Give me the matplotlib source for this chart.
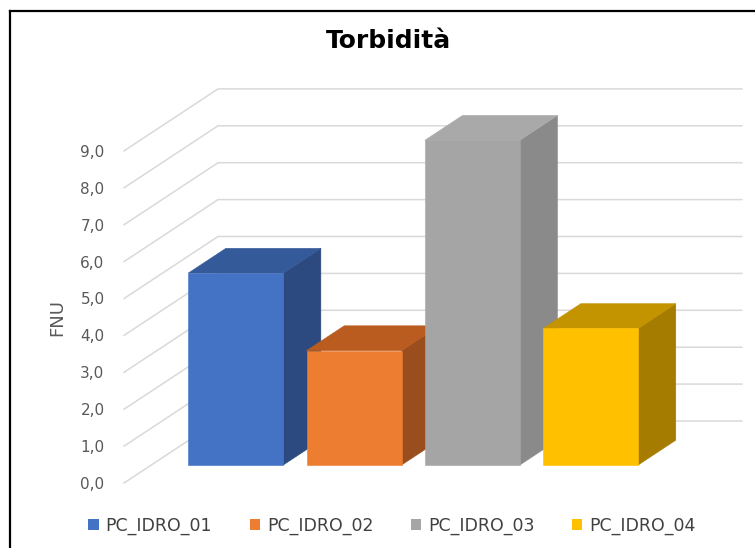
import numpy as np
import matplotlib
matplotlib.use("Agg")
import matplotlib.pyplot as plt
from matplotlib.patches import Polygon, Patch
from matplotlib.lines import Line2D

stations = ["PC_IDRO_01", "PC_IDRO_02", "PC_IDRO_03", "PC_IDRO_04"]
fnu = [5.2, 3.1, 8.8, 3.7]
y_ticks = [0, 1, 2, 3, 4, 5, 6, 7, 8, 9]
y_tick_labels = ["0,0", "1,0", "2,0", "3,0", "4,0", "5,0", "6,0", "7,0", "8,0", "9,0"]

# front / top / side shades for each column
front_colors = ["#4472C4", "#ED7D31", "#A5A5A5", "#FFC000"]
top_colors = ["#345A9A", "#BA5C1F", "#A9A9A9", "#C49300"]
side_colors = ["#2C4A80", "#9A4E1D", "#8A8A8A", "#A67C00"]

W, H = 755, 548
PX_X = 118.3   # pixels per category
PX_Y = 36.9    # pixels per FNU unit
DEPTH_PX = (94, 62)
DX, DY = DEPTH_PX[0] / PX_X, DEPTH_PX[1] / PX_Y
D0, D1 = 0.29, 0.69   # column depth inside the floor
BAR_W = 95 / PX_X
FLOOR_HALF = 2.214

fig = plt.figure(figsize=(W / 100, H / 100), dpi=100)
fig.patch.set_facecolor("white")

ax_left, ax_bottom = 124, 65
ax = fig.add_axes([ax_left / W, ax_bottom / H, (W - ax_left) / W, 403 / H])
x0 = -(208.5 - ax_left) / PX_X
ax.set_xlim(x0, x0 + (W - ax_left) / PX_X)
ax.set_ylim(0, 403 / PX_Y)
for s in ax.spines.values():
    s.set_visible(False)
ax.set_facecolor("none")
ax.set_xticks([])
ax.set_yticks(y_ticks, y_tick_labels)
ax.tick_params(axis="y", length=0, pad=14, labelsize=11, labelcolor="#595959")


def proj(x, v, d):
    return (x + d * DX, v + d * DY)


# side wall and back wall gridlines
centre = (len(stations) - 1) / 2
xl, xr = centre - FLOOR_HALF, centre + FLOOR_HALF
for v in y_ticks:
    pts = [proj(xl, v, 0), proj(xl, v, 1), proj(xr, v, 1)]
    ax.plot([p[0] for p in pts], [p[1] for p in pts], color="#D9D9D9",
            lw=1.1, zorder=1, clip_on=False, solid_joinstyle="miter")

# 3D columns, left to right so later ones sit in front
for i, h in enumerate(fnu):
    a, b = i - BAR_W / 2, i + BAR_W / 2
    front = [proj(a, 0, D0), proj(b, 0, D0), proj(b, h, D0), proj(a, h, D0)]
    top = [proj(a, h, D0), proj(b, h, D0), proj(b, h, D1), proj(a, h, D1)]
    side = [proj(b, 0, D0), proj(b, 0, D1), proj(b, h, D1), proj(b, h, D0)]
    for poly, c in ((side, side_colors[i]), (top, top_colors[i]), (front, front_colors[i])):
        ax.add_patch(Polygon(poly, closed=True, facecolor=c, edgecolor=c,
                             lw=0.4, zorder=2 + i, clip_on=False))

ax.set_ylabel("FNU", fontsize=13, color="#595959")
ax.yaxis.set_label_coords((57 - ax_left) / (W - ax_left), (231 - ax_bottom) / 403)
ax.yaxis.label.set_va("center")

fig.text(388 / W, 1 - 41 / H, "Torbidità", ha="center", va="center",
         fontsize=18, fontweight="bold", color="black")

handles = [Patch(facecolor=c, edgecolor="none", label=n) for c, n in zip(front_colors, stations)]
fig.legend(handles=handles, loc="center", bbox_to_anchor=(392 / W, 22 / H),
           ncol=4, frameon=False, fontsize=12.5, labelcolor="#404040",
           handlelength=0.6, handleheight=0.6, handletextpad=0.4, columnspacing=2.15)

# chart border
fig.add_artist(Line2D([9.5 / W, 9.5 / W], [0, 1 - 10.5 / H], color="black", lw=1.6,
                      transform=fig.transFigure))
fig.add_artist(Line2D([9.5 / W, 1], [1 - 10.5 / H, 1 - 10.5 / H], color="black", lw=1.6,
                      transform=fig.transFigure))

fig.savefig("out.png", dpi=100, facecolor="white")
